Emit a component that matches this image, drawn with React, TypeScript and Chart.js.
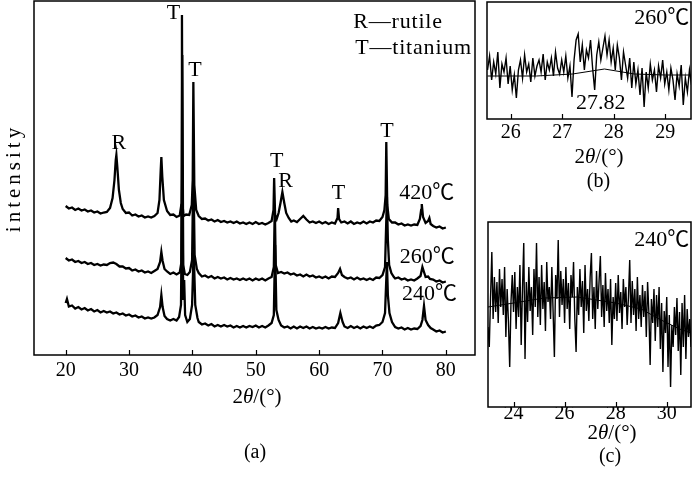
import React, { useEffect, useRef } from 'react';
import { Chart, registerables } from 'chart.js';

Chart.register(...registerables);

const SERIF = "'Liberation Serif', 'Noto Sans CJK SC', serif";

// ---------- Panel (a): full XRD patterns ----------
const A_TICKS = [20, 30, 40, 50, 60, 70, 80];
const A_420: [number, number][] = [
  [20,149],[20.5,146.5],[21,147.5],[21.5,145],[22,146.5],[22.5,144.5],[23,145.5],[23.5,143.5],[24,144.5],[24.5,142.5],[25,143.5],[25.5,141.5],[26,142.5],[26.5,143],[27,147],[27.4,157],[27.7,175],[27.9,195],[28.0,200],[28.15,188],[28.4,165],[28.7,152],[29,146],[29.5,142],[30,142.5],[30.5,139.5],[31,140.5],[31.5,138.5],[32,139.5],[32.5,137.5],[33,138.5],[33.5,137.5],[34,139],[34.5,142],[34.8,155],[35.0,185],[35.1,198],[35.25,178],[35.5,155],[36,144],[36.5,140],[37,140.5],[37.5,138],[38,139.5],[38.25,150],[38.35,340],[38.45,150],[38.6,139],[39,140.5],[39.5,140],[39.9,150],[40.05,175],[40.15,273],[40.3,170],[40.6,145],[41,139],[41.5,136],[42,136.5],[42.5,134.5],[43,135.5],[43.5,133.5],[44,135],[44.5,133],[45,134],[45.5,132.5],[46,133.5],[46.5,132],[47,133.5],[47.5,131.5],[48,132.5],[48.5,131],[49,132.5],[49.5,131],[50,133],[50.5,131],[51,132],[51.5,130.5],[52,132],[52.5,134],[52.8,145],[52.9,177],[53.05,140],[53.3,136],[53.6,142],[53.9,152],[54.2,163],[54.5,152],[54.8,142],[55.2,137],[55.6,133.5],[56,134.5],[56.5,133],[57,136],[57.5,139],[58,135.5],[58.5,132.5],[59,133.5],[59.5,132],[60,133.5],[60.5,131.5],[61,133],[61.5,131],[62,132.5],[62.5,131.5],[62.9,137],[63.0,147],[63.15,136],[63.5,132.5],[64,133.5],[64.5,131.5],[65,133.5],[65.5,131],[66,132.5],[66.5,131.5],[67,133.5],[67.5,131.5],[68,133.5],[68.5,132.5],[69,134.5],[69.5,134],[70,138],[70.3,145],[70.5,160],[70.6,213],[70.75,150],[71,136],[71.5,132.5],[72,132.5],[72.5,130.5],[73,131.5],[73.5,129.5],[74,130.5],[74.5,129.5],[75,130.5],[75.5,130],[75.9,136],[76.1,145],[76.2,151],[76.4,138],[76.8,132],[77.2,134],[77.4,137],[77.6,131],[78,129],[78.5,127.5],[79,128.5],[79.5,126.5],[80,127.5]
];
const A_260: [number, number][] = [
  [20,97],[20.5,94.5],[21,95.5],[21.5,93],[22,94],[22.5,92],[23,93],[23.5,91],[24,92],[24.5,90],[25,91],[25.5,89.5],[26,90.5],[26.5,90],[27,92],[27.5,92.5],[28,91],[28.5,88.5],[29,88.5],[29.5,86.5],[30,87],[30.5,84.5],[31,85.5],[31.5,83.5],[32,84.5],[32.5,82.5],[33,83.5],[33.5,82],[34,84],[34.5,86],[34.9,93],[35.1,103],[35.3,94],[35.6,86],[36,83.5],[36.5,81],[37,82.5],[37.5,80.5],[38,82.5],[38.25,92],[38.4,300],[38.55,90],[38.8,81],[39.2,80],[39.6,83],[39.95,95],[40.15,190],[40.35,100],[40.7,86],[41,82],[41.5,78.5],[42,79.5],[42.5,77.5],[43,79],[43.5,76.5],[44,78],[44.5,76.5],[45,77.5],[45.5,75.5],[46,77],[46.5,75.5],[47,76.5],[47.5,75],[48,76.5],[48.5,75],[49,76.5],[49.5,74.5],[50,76.5],[50.5,75],[51,76.5],[51.5,74.5],[52,76.5],[52.5,78],[52.85,88],[53.0,150],[53.15,90],[53.5,82],[54,83],[54.5,81.5],[55,82.5],[55.5,80.5],[56,81.5],[56.5,79.5],[57,80.5],[57.5,78.5],[58,80.5],[58.5,78.5],[59,79.5],[59.5,77.5],[60,78.5],[60.5,77],[61,78.5],[61.5,76.5],[62,78.5],[62.5,78],[63,82],[63.3,86],[63.6,80],[64,78],[64.5,76.5],[65,77.5],[65.5,75.5],[66,77.5],[66.5,75.5],[67,76.5],[67.5,75],[68,76.5],[68.5,75],[69,77.5],[69.5,77],[70,80],[70.4,88],[70.7,158],[70.85,115],[71.05,90],[71.4,82],[71.8,78],[72,76.5],[72.5,77.5],[73,75.5],[73.5,76.5],[74,74.5],[74.5,75.5],[75,74.5],[75.5,76.5],[76,79],[76.3,88],[76.5,84],[76.8,78],[77.2,78.5],[77.5,76],[78,75.5],[78.5,73.5],[79,74.5],[79.5,72.5],[80,73.5]
];
const A_240: [number, number][] = [
  [20,52],[20.2,56],[20.5,48.5],[21,49.5],[21.5,46.5],[22,48],[22.5,45.5],[23,47],[23.5,44.5],[24,46],[24.5,43.5],[25,45],[25.5,42.5],[26,44],[26.5,42.5],[27,43.5],[27.5,41.5],[28,42.5],[28.5,40.5],[29,41.5],[29.5,39.5],[30,40.5],[30.5,38.5],[31,39.5],[31.5,37.5],[32,38.5],[32.5,36.5],[33,37.5],[33.5,36.5],[34,37.5],[34.5,40],[34.9,48],[35.1,60],[35.3,48],[35.6,39],[36,36],[36.5,34.5],[37,36],[37.5,34.5],[37.9,38],[38.2,50],[38.4,190],[38.55,55],[38.7,75],[38.85,40],[39.2,33],[39.6,36],[39.95,50],[40.2,105],[40.45,50],[40.8,37],[41,33],[41.5,30.5],[42,31.5],[42.5,29.5],[43,31],[43.5,28.5],[44,30],[44.5,28.5],[45,30],[45.5,28.5],[46,29.5],[46.5,27.5],[47,29],[47.5,27.5],[48,29],[48.5,27.5],[49,29],[49.5,28],[50,29.5],[50.5,27.5],[51,29],[51.5,27.5],[52,29.5],[52.5,32],[52.85,40],[53.05,110],[53.25,45],[53.6,35],[54,29.5],[54.5,27.5],[55,28.5],[55.5,26.5],[56,28.5],[56.5,26.5],[57,28.5],[57.5,27],[58,28.5],[58.5,26.5],[59,28],[59.5,26.5],[60,27.5],[60.5,26.5],[61,28],[61.5,26.5],[62,27.5],[62.5,27],[63,32],[63.35,42],[63.7,33],[64,28.5],[64.5,27],[65,29],[65.5,27],[66,28.5],[66.5,26.5],[67,28.5],[67.5,27],[68,28.5],[68.5,27],[69,29.5],[69.5,30],[70,33],[70.4,42],[70.7,93],[70.85,60],[71.1,42],[71.5,33],[72,28],[72.5,26.5],[73,27.5],[73.5,25.5],[74,27],[74.5,25.5],[75,26.5],[75.5,26],[76,29],[76.3,35],[76.55,49],[76.8,35],[77.2,30],[77.6,27],[78,25.5],[78.5,23.5],[79,24.5],[79.5,22.5],[80,23.5]
];
const A_PEAK_LABELS = [
  { text: 'R', x: 28.4, y: 212 },
  { text: 'T', x: 37.0, y: 342 },
  { text: 'T', x: 40.4, y: 285 },
  { text: 'T', x: 53.3, y: 194 },
  { text: 'R', x: 54.7, y: 174 },
  { text: 'T', x: 63.05, y: 162 },
  { text: 'T', x: 70.7, y: 224 },
];
const A_TEMP_LABELS = [
  { text: '420℃', x: 77.0, y: 162 },
  { text: '260℃', x: 77.05, y: 98 },
  { text: '240℃', x: 77.4, y: 61 },
];
const A_LEGEND = [
  { text: 'R—rutile', x: 65.4, y: 333 },
  { text: 'T—titanium', x: 65.7, y: 307 },
];

// ---------- Panel (b): 260℃ detail ----------
const B_TICKS = [26, 27, 28, 29];
const B_X_START = 25.55;
const B_X_STEP = 0.04;
const B_260 = [
  49, 63, 39, 57, 45, 67, 31, 55, 47, 61, 35, 53, 29, 44,
  21,
  49, 59, 41, 64, 47, 55, 37, 61, 43, 53, 59,
  47, 65, 39, 57, 49, 61, 43, 67, 51, 45, 59,
  47, 63, 41, 53,
  22,
  59, 79, 85,
  57, 74, 49, 69, 61, 79, 51, 29, 64, 77, 59, 71,
  83,
  64, 79, 57, 71, 49, 74, 61, 39, 67,
  54, 41, 61, 31, 57, 35, 49, 24, 51,
  12,
  47, 31, 55, 39, 49, 27, 53, 41, 59, 35, 47, 29,
  51, 39, 19, 45, 33, 54, 14, 41, 27, 49, 34,
];
const B_FIT: [number, number][] = [[25.55, 43], [26.5, 43], [27.2, 45], [27.82, 50], [28.4, 45], [29.0, 44], [29.5, 44]];
const B_LABELS = [
  { text: '260℃', x: 28.93, y: 101 },
  { text: '27.82', x: 27.75, y: 16 },
];

// ---------- Panel (c): 240℃ detail ----------
const C_TICKS = [24, 26, 28, 30];
const C_X_START = 23;
const C_X_STEP = 0.05;
const C_240 = [
  80, 60, 110, 155, 88, 130, 95, 125, 84, 138,
  100, 128, 92, 140, 70, 118, 86, 40, 105, 132,
  95, 135, 78, 120, 90, 142, 62, 118, 164, 48,
  125, 85, 140, 96, 120, 72, 138, 100, 164, 90,
  130, 82, 142, 98, 125, 76, 145, 105, 120, 88,
  140, 95, 50, 132, 108, 167, 90, 136, 102, 128,
  84, 140, 98, 124, 78, 132, 110, 145, 88, 55,
  120, 92, 138, 100, 126, 74, 142, 96, 118, 86,
  130, 154, 88, 120, 78, 136, 98, 126, 151, 90,
  122, 80, 134, 96, 118, 84, 128, 62, 110, 88,
  124, 86, 132, 94, 115, 78, 128, 100, 120, 82,
  110, 147, 84, 126, 92, 118, 76, 130, 88, 112,
  80, 122, 90, 116, 70, 125, 95, 42, 108, 84,
  118, 66, 112, 80, 120, 58, 104, 35, 96, 74,
  110, 40, 92, 20, 82, 60, 100, 72, 109, 56,
  95, 32, 104, 60, 112, 48, 98, 70, 88, 60,
];
const C_FIT: [number, number][] = [[23, 100], [24, 104], [25.2, 109], [26.5, 110], [28, 104], [29, 98], [29.7, 88], [30.5, 78], [30.95, 74]];
const C_LABELS = [{ text: '240℃', x: 29.8, y: 167 }];

type Label = { text: string; x: number; y: number };

type PanelSpec = {
  width: number;
  height: number;
  left: number;
  top: number;
  padding: { left: number; right: number; top: number; bottom: number };
  scaleHeight: number;
  tickPadding: number;
  xMin: number;
  xMax: number;
  yMax: number;
  ticks: number[];
  datasets: { points: { x: number; y: number }[]; width: number }[];
  labels: Label[];
  leftLabels?: Label[];
  labelSize: number;
  xTitle: { x: number; y: number };
  caption: { text: string; x: number; y: number };
  yTitle?: { text: string; x: number; y: number };
};

function drawTheta(ctx: CanvasRenderingContext2D, cx: number, cy: number, size: number) {
  const parts: [string, boolean][] = [['2', false], ['θ', true], ['/(°)', false]];
  let total = 0;
  const widths: number[] = [];
  for (const [t, it] of parts) {
    ctx.font = `${it ? 'italic ' : ''}${size}px ${SERIF}`;
    const w = ctx.measureText(t).width;
    widths.push(w);
    total += w;
  }
  let x = cx - total / 2;
  ctx.textAlign = 'left';
  ctx.textBaseline = 'middle';
  parts.forEach(([t, it], i) => {
    ctx.font = `${it ? 'italic ' : ''}${size}px ${SERIF}`;
    ctx.fillText(t, x, cy);
    x += widths[i];
  });
}

function makeDecorPlugin(spec: PanelSpec) {
  return {
    id: 'decor',
    afterDraw(chart: any) {
      const ctx: CanvasRenderingContext2D = chart.ctx;
      const { left, right, top, bottom } = chart.chartArea;
      const xs = chart.scales.x;
      const ys = chart.scales.y;
      ctx.save();
      ctx.strokeStyle = '#000';
      ctx.fillStyle = '#000';
      ctx.lineWidth = 1.5;
      ctx.strokeRect(left, top, right - left, bottom - top);
      ctx.lineWidth = 1.2;
      for (const t of xs.ticks) {
        const px = Math.round(xs.getPixelForValue(t.value)) + 0.5;
        ctx.beginPath();
        ctx.moveTo(px, bottom);
        ctx.lineTo(px, bottom - 5);
        ctx.stroke();
      }
      ctx.font = `${spec.labelSize}px ${SERIF}`;
      ctx.textAlign = 'center';
      ctx.textBaseline = 'middle';
      for (const l of spec.labels) {
        ctx.fillText(l.text, xs.getPixelForValue(l.x), ys.getPixelForValue(l.y));
      }
      if (spec.leftLabels) {
        ctx.save();
        ctx.textAlign = 'left';
        (ctx as any).letterSpacing = '0.8px';
        for (const l of spec.leftLabels) {
          ctx.fillText(l.text, xs.getPixelForValue(l.x), ys.getPixelForValue(l.y));
        }
        ctx.restore();
      }
      drawTheta(ctx, spec.xTitle.x, spec.xTitle.y, 21);
      ctx.font = `20px ${SERIF}`;
      ctx.textAlign = 'center';
      ctx.textBaseline = 'middle';
      ctx.fillText(spec.caption.text, spec.caption.x, spec.caption.y);
      if (spec.yTitle) {
        ctx.save();
        ctx.translate(spec.yTitle.x, spec.yTitle.y);
        ctx.rotate(-Math.PI / 2);
        ctx.font = `21px ${SERIF}`;
        (ctx as any).letterSpacing = '4px';
        ctx.textAlign = 'center';
        ctx.textBaseline = 'middle';
        ctx.fillText(spec.yTitle.text, 2, 0);
        ctx.restore();
      }
      ctx.restore();
    },
  };
}

function Panel({ spec }: { spec: PanelSpec }) {
  const ref = useRef<HTMLCanvasElement>(null);
  useEffect(() => {
    if (!ref.current) return;
    const chart = new Chart(ref.current, {
      type: 'line',
      data: {
        datasets: spec.datasets.map((d) => ({
          data: d.points,
          borderColor: '#000',
          borderWidth: d.width,
          pointRadius: 0,
          fill: false,
          tension: 0,
        })),
      },
      options: {
        animation: false,
        responsive: false,
        layout: { padding: spec.padding },
        plugins: { legend: { display: false }, tooltip: { enabled: false }, title: { display: false } },
        scales: {
          x: {
            type: 'linear',
            min: spec.xMin,
            max: spec.xMax,
            grid: { display: false, drawTicks: false },
            border: { display: false },
            ticks: {
              color: '#000',
              font: { family: SERIF, size: 20 },
              padding: spec.tickPadding,
              autoSkip: false,
              maxRotation: 0,
            },
            afterBuildTicks: (s: any) => {
              s.ticks = spec.ticks.map((v) => ({ value: v }));
            },
            afterFit: (s: any) => {
              s.height = spec.scaleHeight;
            },
          },
          y: { display: false, min: 0, max: spec.yMax },
        },
      } as any,
      plugins: [makeDecorPlugin(spec)],
    });
    return () => chart.destroy();
  }, [spec]);
  return (
    <canvas
      ref={ref}
      width={spec.width}
      height={spec.height}
      style={{ position: 'absolute', left: spec.left, top: spec.top, width: spec.width, height: spec.height }}
    />
  );
}

const toPts = (arr: [number, number][]) => arr.map(([x, y]) => ({ x, y }));

const SPEC_A: PanelSpec = {
  width: 480, height: 477, left: 0, top: 0,
  padding: { left: 34, right: 5, top: 1, bottom: 82 },
  scaleHeight: 40, tickPadding: 4,
  xMin: 15, xMax: 84.6, yMax: 354,
  ticks: A_TICKS,
  datasets: [
    { points: toPts(A_420), width: 2.3 },
    { points: toPts(A_260), width: 2.3 },
    { points: toPts(A_240), width: 2.3 },
  ],
  labels: [...A_PEAK_LABELS, ...A_TEMP_LABELS],
  leftLabels: A_LEGEND,
  labelSize: 22,
  xTitle: { x: 257, y: 397 },
  caption: { text: '(a)', x: 255, y: 453 },
  yTitle: { text: 'intensity', x: 14.5, y: 180 },
};

const SPEC_B: PanelSpec = {
  width: 223, height: 200, left: 470, top: 0,
  padding: { left: 17, right: 2, top: 2, bottom: 41 },
  scaleHeight: 40, tickPadding: 2,
  xMin: 25.54, xMax: 29.5, yMax: 117,
  ticks: B_TICKS,
  datasets: [
    { points: B_260.map((v, i) => ({ x: B_X_START + i * B_X_STEP, y: v })), width: 1.4 },
    { points: toPts(B_FIT), width: 1 },
  ],
  labels: B_LABELS,
  labelSize: 22,
  xTitle: { x: 129, y: 157 },
  caption: { text: '(b)', x: 128.5, y: 182 },
};

const SPEC_C: PanelSpec = {
  width: 223, height: 277, left: 470, top: 200,
  padding: { left: 18, right: 2, top: 22, bottom: 45 },
  scaleHeight: 25, tickPadding: -5,
  xMin: 23, xMax: 30.95, yMax: 185,
  ticks: C_TICKS,
  datasets: [
    { points: C_240.map((v, i) => ({ x: C_X_START + i * C_X_STEP, y: v })), width: 1.4 },
    { points: toPts(C_FIT), width: 1 },
  ],
  labels: C_LABELS,
  labelSize: 22,
  xTitle: { x: 142, y: 233 },
  caption: { text: '(c)', x: 140, y: 257 },
};

export default function App() {
  return (
    <div style={{ position: 'absolute', left: 0, top: 0, width: 693, height: 477, background: '#fff', overflow: 'hidden' }}>
      <Panel spec={SPEC_A} />
      <Panel spec={SPEC_B} />
      <Panel spec={SPEC_C} />
    </div>
  );
}
